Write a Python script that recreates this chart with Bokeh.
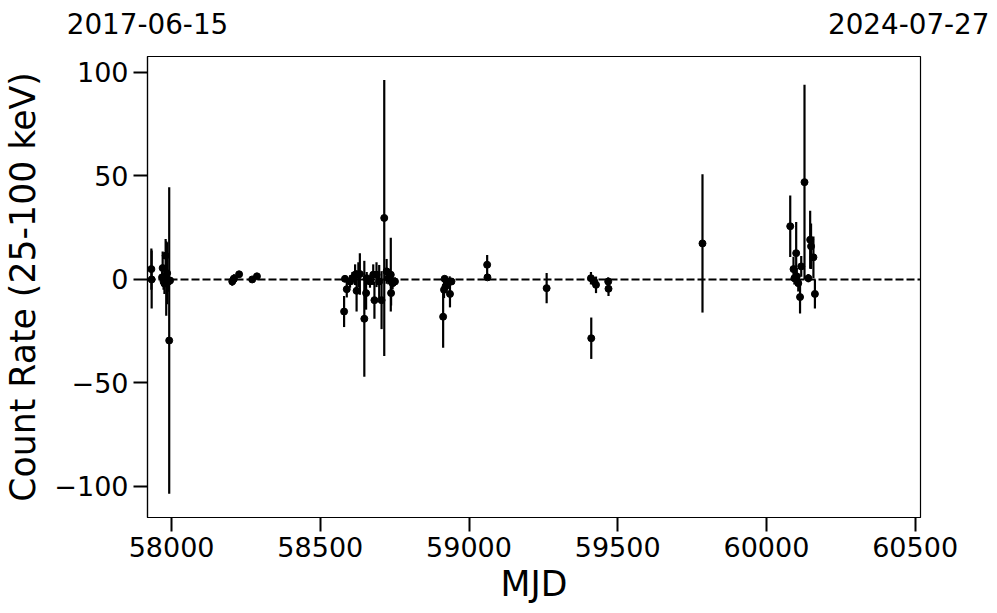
from bokeh.plotting import figure
from bokeh.models import Range1d, Span, FixedTicker, LinearAxis
from bokeh.embed import file_html
from bokeh.resources import INLINE

# ---- data ----
mjd = [57932, 57933, 57968, 57970, 57973, 57976, 57980, 57982, 57985, 57990, 57992, 57995,
       58204, 58208, 58210, 58227, 58271, 58287,
       58580, 58583, 58589, 58600, 58608, 58617, 58622, 58628, 58633, 58648, 58654, 58656,
       58667, 58678, 58682, 58689, 58698, 58706, 58715, 58723, 58729, 58737, 58738, 58743, 58751,
       58913, 58916, 58918, 58921, 58935, 58936, 58941, 59061, 59062,
       59261, 59410, 59411, 59421, 59427, 59468, 59469,
       59785,
       60080, 60091, 60094, 60100, 60102, 60107, 60113, 60117, 60128, 60141, 60147, 60150, 60158, 60163]
rate = [5.0, 0.0, 1.0, 5.5, -1.0, -2.0, 11.5, 0.5, 3.0, -1.0, -29.5, -0.5,
        -1.0, 0.0, 0.5, 2.5, 0.0, 1.5,
        -15.5, 0.3, -4.7, -1.0, 0.6, 2.3, -5.5, 2.3, 2.6, -19.0, -6.6, 0.6,
        -1.0, 2.3, -10.0, 2.3, -1.0, -10.0, 29.7, 3.9, 0.6, 2.3, -6.6, -1.8, -1.0,
        -18.0, -5.0, 0.3, -3.4, -1.0, -7.0, -1.0, 7.1, 1.0,
        -4.2, 0.6, -28.4, -1.0, -2.6, -1.0, -4.5,
        17.4,
        25.7, 5.0, 0.6, 12.7, 1.5, -1.8, -8.5, 6.3, 47.0, 0.6, 19.2, 16.0, 10.7, -7.0]
err = [10.0, 14.0, 3.0, 8.0, 4.0, 5.0, 8.0, 18.0, 15.0, 5.0, 74.0, 1.5,
       2.0, 1.5, 2.0, 1.5, 1.0, 1.0,
       7.5, 1.5, 4.0, 3.0, 3.0, 5.0, 10.0, 6.0, 10.0, 28.0, 8.0, 3.0,
       3.0, 5.0, 9.0, 6.0, 8.0, 14.0, 66.7, 6.0, 3.0, 17.8, 6.0, 3.0, 2.0,
       15.0, 4.0, 1.5, 3.0, 2.5, 6.5, 1.5, 4.7, 1.0,
       7.3, 3.0, 10.0, 2.0, 4.0, 2.0, 3.5,
       33.4,
       14.8, 6.0, 3.0, 15.0, 4.0, 4.0, 8.0, 5.0, 47.0, 2.0, 14.0, 11.0, 10.0, 7.0]

mjd_start, mjd_end = 57919, 60518
date_labels = ["2017-06-15", "2024-07-27"]
x_ticks = [58000, 58500, 59000, 59500, 60000, 60500]
y_ticks = [-100, -50, 0, 50, 100]
y_min, y_max = -115.0, 107.7

FONT = "DejaVu Sans"

p = figure(width=989, height=613, output_backend="svg", toolbar_location=None,
           x_range=Range1d(mjd_start, mjd_end), y_range=Range1d(y_min, y_max),
           min_border_left=145, min_border_right=69, min_border_top=56, min_border_bottom=96)

p.xgrid.visible = False
p.ygrid.visible = False
p.outline_line_color = "black"
p.outline_line_width = 1.2
p.background_fill_color = "white"
p.border_fill_color = "white"

lo = [r - e for r, e in zip(rate, err)]
hi = [r + e for r, e in zip(rate, err)]
p.segment(x0=mjd, y0=lo, x1=mjd, y1=hi, line_color="black", line_width=2.2)
p.scatter(x=mjd, y=rate, size=7, fill_color="black", line_color="black")

p.add_layout(Span(location=0, dimension="width", line_color="black",
                  line_width=2, line_dash="8 3"))

for ax in (p.xaxis[0], p.yaxis[0]):
    ax.major_tick_in = 0
    ax.major_tick_out = 14
    ax.major_tick_line_width = 2
    ax.minor_tick_line_color = None
    ax.axis_line_width = 1.2
    ax.major_label_text_font = FONT
    ax.major_label_text_font_size = "27px"
    ax.major_label_text_color = "black"
    ax.axis_label_text_font = FONT
    ax.axis_label_text_font_size = "34.7px"
    ax.axis_label_text_font_style = "normal"
    ax.axis_label_text_color = "black"
    ax.major_label_standoff = 5

p.xaxis.ticker = FixedTicker(ticks=x_ticks)
p.yaxis.ticker = FixedTicker(ticks=y_ticks)
p.yaxis.major_label_overrides = {t: (str(t).replace("-", "\u2212")) for t in y_ticks}
p.xaxis.axis_label = "MJD"
p.yaxis.axis_label = "Count Rate (25-100 keV)"
p.xaxis.axis_label_standoff = 4
p.yaxis.axis_label_standoff = 8

# date labels at the two ends of the time range, as a top axis
top = LinearAxis(ticker=FixedTicker(ticks=[mjd_start, mjd_end]),
                 major_label_overrides={mjd_start: date_labels[0], mjd_end: date_labels[1]},
                 axis_line_color=None, major_tick_line_color=None, minor_tick_line_color=None,
                 major_tick_in=0, major_tick_out=0, major_label_standoff=23,
                 major_label_text_font=FONT, major_label_text_font_size="27.8px",
                 major_label_text_color="black")
p.add_layout(top, "above")

open("out.html", "w").write(file_html(p, INLINE))
